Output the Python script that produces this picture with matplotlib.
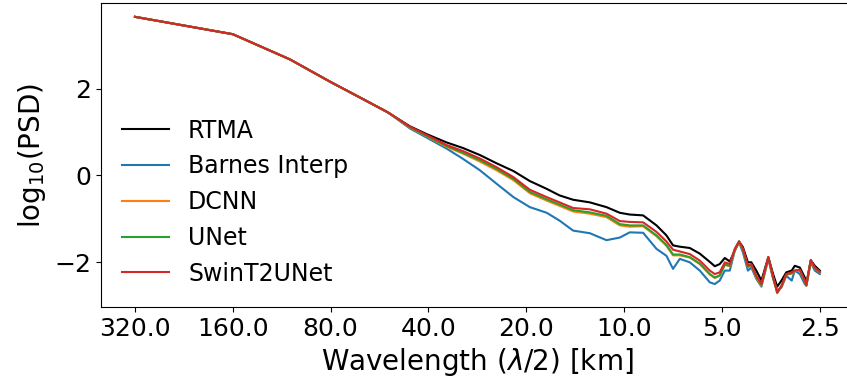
import matplotlib

matplotlib.use("Agg")
import matplotlib.pyplot as plt


wavelength_km = [
    320, 160, 106.7, 80, 64.1, 53.3, 45.6, 40.5, 35.2, 31.3,
    27.8, 24.7, 21.9, 19.5, 17.3, 15.8, 14.35, 12.75, 11.33, 10.31,
    9.61, 8.74, 7.95, 7.41, 7.07, 6.74, 6.28, 5.85, 5.45, 5.26,
    5.08, 4.90, 4.73, 4.565, 4.43, 4.31, 4.16, 4.06, 3.92, 3.78,
    3.60, 3.48, 3.38, 3.28, 3.17, 3.05, 2.985, 2.88, 2.78, 2.75,
    2.665, 2.59, 2.5,
]

rtma = [
    3.65, 3.25, 2.67, 2.15, 1.77, 1.45, 1.13, 0.95, 0.76, 0.63,
    0.47, 0.28, 0.10, -0.13, -0.31, -0.46, -0.56, -0.62, -0.73, -0.86,
    -0.90, -0.92, -1.15, -1.38, -1.61, -1.64, -1.67, -1.80, -1.99, -2.09,
    -2.04, -1.90, -1.98, -1.73, -1.52, -1.65, -2.00, -2.00, -2.19, -2.42,
    -1.88, -2.27, -2.56, -2.42, -2.23, -2.19, -2.08, -2.12, -2.35, -2.50,
    -1.95, -2.08, -2.19,
]

barnes = [
    3.65, 3.25, 2.67, 2.15, 1.77, 1.45, 1.08, 0.87, 0.62, 0.38,
    0.12, -0.19, -0.50, -0.73, -0.86, -1.04, -1.27, -1.33, -1.49, -1.43,
    -1.31, -1.32, -1.69, -1.85, -2.15, -1.92, -2.00, -2.19, -2.46, -2.50,
    -2.42, -2.19, -2.19, -1.73, -1.54, -1.77, -2.19, -2.12, -2.38, -2.56,
    -1.92, -2.38, -2.65, -2.58, -2.31, -2.42, -2.19, -2.27, -2.50, -2.54,
    -2.00, -2.19, -2.27,
]

dcnn = [
    3.65, 3.25, 2.67, 2.15, 1.77, 1.45, 1.10, 0.90, 0.66, 0.50,
    0.32, 0.12, -0.11, -0.41, -0.58, -0.70, -0.83, -0.88, -0.96, -1.15,
    -1.18, -1.17, -1.40, -1.62, -1.84, -1.84, -1.89, -2.04, -2.28, -2.36,
    -2.31, -2.06, -2.09, -1.71, -1.53, -1.71, -2.11, -2.07, -2.35, -2.54,
    -1.90, -2.36, -2.71, -2.56, -2.29, -2.26, -2.20, -2.19, -2.44, -2.54,
    -1.97, -2.14, -2.23,
]

unet = [
    3.65, 3.25, 2.67, 2.15, 1.77, 1.45, 1.11, 0.91, 0.68, 0.52,
    0.35, 0.15, -0.08, -0.38, -0.55, -0.67, -0.80, -0.85, -0.93, -1.12,
    -1.15, -1.15, -1.38, -1.60, -1.82, -1.82, -1.88, -2.03, -2.27, -2.35,
    -2.30, -2.05, -2.08, -1.70, -1.52, -1.70, -2.10, -2.06, -2.33, -2.52,
    -1.89, -2.35, -2.70, -2.55, -2.28, -2.25, -2.19, -2.18, -2.43, -2.53,
    -1.96, -2.13, -2.22,
]

swint2unet = [
    3.65, 3.25, 2.67, 2.15, 1.77, 1.45, 1.12, 0.93, 0.70, 0.56,
    0.39, 0.19, -0.04, -0.33, -0.50, -0.62, -0.75, -0.78, -0.88, -1.05,
    -1.07, -1.08, -1.30, -1.52, -1.71, -1.75, -1.81, -1.96, -2.19, -2.27,
    -2.23, -2.00, -2.04, -1.69, -1.52, -1.69, -2.08, -2.04, -2.31, -2.50,
    -1.88, -2.34, -2.69, -2.54, -2.27, -2.23, -2.19, -2.17, -2.42, -2.52,
    -1.95, -2.12, -2.22,
]

series_names = ["RTMA", "Barnes Interp", "DCNN", "UNet", "SwinT2UNet"]
series_colors = ["black", "tab:blue", "tab:orange", "tab:green", "tab:red"]
tick_wavelengths = [320, 160, 80, 40, 20, 10, 5, 2.5]


def plot_psd(path: str = "out.png") -> None:
    fig = plt.figure(figsize=(8.47, 3.85), dpi=100)
    # right edge of the axes sits just past the canvas, as in the reference crop
    ax = fig.add_axes([0.1189, 0.2026, 0.8894, 0.7896])

    all_series = [rtma, barnes, dcnn, unet, swint2unet]
    for values, name, color in zip(all_series, series_names, series_colors):
        ax.plot(wavelength_km, values, color=color, linewidth=1.5, label=name)

    ax.set_xscale("log")
    ax.invert_xaxis()
    ax.set_xticks(tick_wavelengths)
    ax.set_xticklabels([f"{w:.1f}" for w in tick_wavelengths])
    ax.minorticks_off()
    ax.set_yticks([-2, 0, 2])
    ax.tick_params(labelsize=18)

    ax.set_xlabel(r"Wavelength ($\lambda$/2) [km]", fontsize=20)
    ax.set_ylabel(r"log$_{10}$(PSD)", fontsize=20)
    ax.legend(loc="lower left", frameon=False, fontsize=17)

    fig.savefig(path, dpi=100)
    plt.close(fig)


if __name__ == "__main__":
    plot_psd()
